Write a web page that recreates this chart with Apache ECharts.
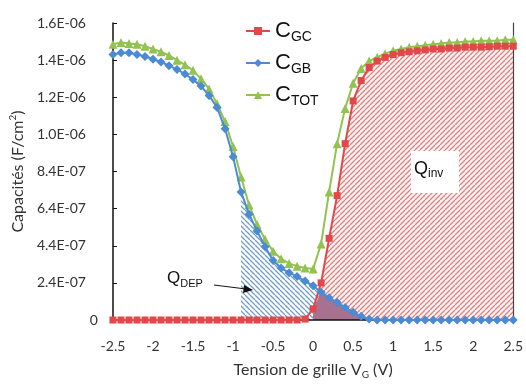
<!DOCTYPE html>
<html>
<head>
<meta charset="utf-8">
<script src="https://cdn.jsdelivr.net/npm/echarts@6/dist/echarts.min.js"></script>
<style>
html,body{margin:0;padding:0;background:#fff;}
#chart{width:526px;height:385px;}
</style>
</head>
<body>
<div id="chart"></div>
<script>
// Gate voltage (V)
const V = [-2.5,-2.4,-2.3,-2.2,-2.1,-2.0,-1.9,-1.8,-1.7,-1.6,-1.5,-1.4,-1.3,-1.2,-1.1,-1.0,-0.9,-0.8,-0.7,-0.6,-0.5,-0.4,-0.3,-0.2,-0.1,0.0,0.1,0.2,0.3,0.4,0.5,0.6,0.7,0.8,0.9,1.0,1.1,1.2,1.3,1.4,1.5,1.6,1.7,1.8,1.9,2.0,2.1,2.2,2.3,2.4,2.5];
// Capacitances in units of 1E-07 F/cm2
const cGC = [0,0,0,0,0,0,0,0,0,0,0,0,0,0,0,0,0,0,0,0,0,0,0,0,0.05,0.6,2.0,4.4,6.7,9.5,11.8,12.9,13.6,13.95,14.15,14.3,14.4,14.45,14.5,14.55,14.6,14.6,14.65,14.65,14.7,14.7,14.7,14.72,14.75,14.75,14.75];
const cGB = [14.3,14.4,14.4,14.3,14.2,14.05,13.9,13.7,13.5,13.25,12.95,12.6,12.1,11.45,10.3,8.8,6.9,5.7,4.8,3.95,3.2,2.8,2.55,2.35,2.1,1.85,1.5,1.2,0.95,0.68,0.42,0.2,0.06,0,0,0,0,0,0,0,0,0,0,0,0,0,0,0,0,0,0];
const cTOT = [14.85,14.95,14.9,14.85,14.75,14.6,14.45,14.25,14.0,13.75,13.45,13.0,12.45,11.65,10.7,9.35,7.7,6.2,5.15,4.35,3.7,3.3,3.05,2.9,2.8,2.75,4.1,6.9,9.5,11.4,12.75,13.55,13.95,14.15,14.35,14.5,14.6,14.7,14.75,14.8,14.85,14.9,14.95,14.95,15.0,15.0,15.05,15.05,15.05,15.1,15.1];
const xTickLabels = ['-2.5','-2','-1.5','-1','-0.5','0','0.5','1','1.5','2','2.5'];
const yTickLabels = ['0','2.4E-07','4.4E-07','6.4E-07','8.4E-07','1.0E-06','1.2E-06','1.4E-06','1.6E-06'];
// Ranges of the hatched regions (V)
const qDepRange = [-0.93, 0.7];
const qInvRange = [0.0, 2.5];

function pairs(arr, lo, hi) {
  const out = [];
  for (let i = 0; i < V.length; i++) if (V[i] >= lo - 1e-9 && V[i] <= hi + 1e-9) out.push([V[i], arr[i]]);
  return out;
}
const overlap = [];
for (let i = 0; i < V.length; i++) {
  if (V[i] >= qInvRange[0] - 1e-9 && V[i] <= qDepRange[1] + 1e-9) overlap.push([V[i], Math.min(cGC[i], cGB[i])]);
}

function hatch(color, dir, bg) {
  const s = 5;
  const c = document.createElement('canvas');
  c.width = s; c.height = s;
  const ctx = c.getContext('2d');
  ctx.fillStyle = bg; ctx.fillRect(0, 0, s, s);
  ctx.strokeStyle = color; ctx.lineWidth = 1.3;
  ctx.beginPath();
  for (const k of [-s, 0, s]) {
    if (dir === '/') { ctx.moveTo(k, s); ctx.lineTo(k + s, 0); }
    else { ctx.moveTo(k, 0); ctx.lineTo(k + s, s); }
  }
  ctx.stroke();
  return c;
}

const RED = '#e2474a', BLUE = '#4a8bd4', GREEN = '#92c24f';
const chart = echarts.init(document.getElementById('chart'));
const subName = {CGC: 'GC', CGB: 'GB', CTOT: 'TOT'};

chart.setOption({
  animation: false,
  grid: {left: 107, right: 5, top: 23, bottom: 55},
  legend: {
    orient: 'vertical', left: 240, top: 15, itemWidth: 24, itemHeight: 10, itemGap: 8,
    data: ['CGC', 'CGB', 'CTOT'],
    formatter: n => '{b|C}{s|' + subName[n] + '}',
    textStyle: {
      rich: {
        b: {fontFamily: 'Liberation Sans', fontSize: 22, color: '#111', lineHeight: 26},
        s: {fontFamily: 'Liberation Sans', fontSize: 14, color: '#111', lineHeight: 12, verticalAlign: 'bottom'}
      }
    }
  },
  xAxis: {
    type: 'value', min: -2.5, max: 2.5, interval: 0.5, z: 3,
    axisLine: {onZero: false, lineStyle: {color: '#111', width: 1.5}},
    axisTick: {show: false},
    splitLine: {show: false},
    axisLabel: {
      margin: 19, color: '#333', fontFamily: 'Lato', fontSize: 14,
      formatter: v => xTickLabels[Math.round((v + 2.5) / 0.5)]
    },
    name: '{t|Tension de grille V}{s|G}{t| (V)}', nameLocation: 'middle', nameGap: 40,
    nameTextStyle: {
      rich: {
        t: {fontFamily: 'Lato', fontSize: 16, color: '#333', lineHeight: 20},
        s: {fontFamily: 'Lato', fontSize: 10, color: '#333', lineHeight: 10, verticalAlign: 'bottom'}
      }
    }
  },
  yAxis: [{
    type: 'value', min: 0, max: 16, interval: 2, z: 3,
    axisLine: {show: true, onZero: false, lineStyle: {color: '#111', width: 1.5}},
    axisTick: {show: true, inside: true, length: 4, lineStyle: {color: '#111'}},
    splitLine: {show: false},
    axisLabel: {
      margin: 15, color: '#333', fontFamily: 'Lato', fontSize: 14,
      formatter: v => {
        const i = Math.round(v / 2);
        return i === 0 ? yTickLabels[0] : '{n|' + yTickLabels[i] + '}';
      },
      rich: {n: {fontFamily: 'Lato', fontSize: 14, color: '#333', padding: [0, 12, 0, 0]}}
    },
    name: '{t|Capacités (F/cm}{p|2}{t|)}', nameLocation: 'middle', nameGap: 82,
    nameTextStyle: {
      rich: {
        t: {fontFamily: 'Lato', fontSize: 16, color: '#333', lineHeight: 20},
        p: {fontFamily: 'Lato', fontSize: 10, color: '#333', lineHeight: 20, verticalAlign: 'top', padding: [0, 0, 8, 0]}
      }
    }
  }, {
    type: 'value', min: 0, max: 16, interval: 2, position: 'right', z: 3,
    axisLine: {show: true, onZero: false, lineStyle: {color: '#444', width: 1.2}},
    axisTick: {show: false}, axisLabel: {show: false}, splitLine: {show: false}
  }],
  graphic: [
    {type: 'rect', shape: {x: 411, y: 151, width: 48, height: 42}, style: {fill: '#fff'}, z: 50},
    {type: 'text', left: 414, top: 160, z: 51, style: {text: '{q|Q}{s|inv}', rich: {
      q: {fontFamily: 'Liberation Sans', fontSize: 18, fill: '#111', lineHeight: 22},
      s: {fontFamily: 'Liberation Sans', fontSize: 12, fill: '#111', lineHeight: 12, verticalAlign: 'bottom'}}}},
    {type: 'text', left: 167, top: 270, z: 51, style: {text: '{q|Q}{s|DEP}', rich: {
      q: {fontFamily: 'Liberation Sans', fontSize: 17, fill: '#111', lineHeight: 21},
      s: {fontFamily: 'Liberation Sans', fontSize: 11, fill: '#111', lineHeight: 11, verticalAlign: 'bottom'}}}},
    {type: 'line', z: 51, shape: {x1: 214, y1: 285, x2: 246, y2: 289}, style: {stroke: '#111', lineWidth: 1}},
    {type: 'polygon', z: 51, shape: {points: [[253, 290], [244, 285], [243, 293]]}, style: {fill: '#111'}}
  ],
  series: [
    {type: 'line', name: 'QDEP', data: pairs(cGB, -0.9, qDepRange[1]), showSymbol: false, silent: true, z: 1,
      lineStyle: {width: 0, opacity: 0}, areaStyle: {opacity: 1, color: {image: hatch('#6f9ccb', '\\', '#ffffff'), repeat: 'repeat'}}},
    {type: 'line', name: 'QINV', data: pairs(cGC, qInvRange[0], qInvRange[1]), showSymbol: false, silent: true, z: 1,
      lineStyle: {width: 0, opacity: 0}, areaStyle: {opacity: 1, color: {image: hatch('#dd8080', '/', '#fdf3f3'), repeat: 'repeat'}}},
    {type: 'line', name: 'OVER', data: overlap, showSymbol: false, silent: true, z: 2,
      lineStyle: {width: 0, opacity: 0}, areaStyle: {opacity: 1, color: '#a8718f'}},
    {type: 'line', name: 'CGC', data: V.map((v, i) => [v, cGC[i]]), z: 5,
      symbol: 'rect', symbolSize: 7, itemStyle: {color: RED}, lineStyle: {color: RED, width: 2}},
    {type: 'line', name: 'CGB', data: V.map((v, i) => [v, cGB[i]]), z: 6,
      symbol: 'diamond', symbolSize: 9, itemStyle: {color: BLUE}, lineStyle: {color: BLUE, width: 2}},
    {type: 'line', name: 'CTOT', data: V.map((v, i) => [v, cTOT[i]]), z: 4,
      symbol: 'triangle', symbolSize: 9, itemStyle: {color: GREEN}, lineStyle: {color: GREEN, width: 2}}
  ]
});
</script>
</body>
</html>
